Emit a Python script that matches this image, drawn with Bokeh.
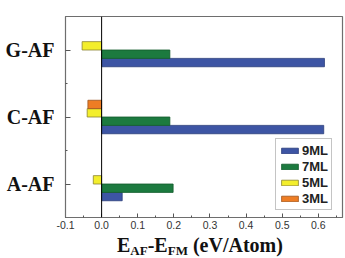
from bokeh.plotting import figure
from bokeh.layouts import column
from bokeh.models import (Range1d, FixedTicker, Span, Legend, LegendItem, Div,
                          NumeralTickFormatter, ColumnDataSource)
from bokeh.embed import file_html
from bokeh.resources import INLINE

# ---- data ----
phases = ["A-AF", "C-AF", "G-AF"]          # bottom to top
series = ["9ML", "7ML", "5ML", "3ML"]      # legend order
ml9 = [0.057, 0.615, 0.617]
ml7 = [0.198, 0.189, 0.189]
ml5 = [-0.023, -0.040, -0.054]
ml3 = [None, -0.038, None]
x_ticks = [-0.1, 0.0, 0.1, 0.2, 0.3, 0.4, 0.5, 0.6]

values = {"9ML": ml9, "7ML": ml7, "5ML": ml5, "3ML": ml3}
offsets = {"3ML": 0.1875, "5ML": 0.0625, "7ML": -0.0625, "9ML": -0.1875}
fills = {"9ML": "#3D55A4", "7ML": "#1C7A3F", "5ML": "#F3EE2C", "3ML": "#EE7D24"}
lines = {"9ML": "#2A3C7A", "7ML": "#125A2C", "5ML": "#8C8431", "3ML": "#9A5420"}

p = figure(width=345, height=234, output_backend="svg", toolbar_location=None,
           x_range=Range1d(-0.1, 0.667), y_range=Range1d(0, 3),
           min_border_left=65, min_border_right=3, min_border_top=16,
           min_border_bottom=17, margin=(0, 0, 0, 0))
p.grid.visible = False
p.outline_line_color = "#6E6E6E"
p.outline_line_width = 1.2

renderers = {}
for s in series:
    ys, rs = [], []
    for i, v in enumerate(values[s]):
        if v is None:
            continue
        ys.append(i + 0.5 + offsets[s])
        rs.append(v)
    src = ColumnDataSource(dict(y=ys, right=rs))
    renderers[s] = p.hbar(y="y", left=0, right="right", height=0.125, source=src,
                          fill_color=fills[s], line_color=lines[s], line_width=0.8)

p.add_layout(Span(location=0, dimension="height", line_color="black", line_width=1))

# x axis
xa = p.xaxis[0]
xa.ticker = FixedTicker(ticks=x_ticks,
                        minor_ticks=[t + 0.05 for t in x_ticks[:-1]] + [-0.1, 0.65])
xa.formatter = NumeralTickFormatter(format="0.0")
xa.axis_line_color = "#6E6E6E"
xa.major_tick_in = 4
xa.major_tick_out = 0
xa.minor_tick_in = 2
xa.minor_tick_out = 0
xa.major_tick_line_color = "#555555"
xa.minor_tick_line_color = "#555555"
xa.major_label_text_font = "Liberation Sans"
xa.major_label_text_font_size = "10.5px"
xa.major_label_text_color = "#333333"
xa.major_label_standoff = 3

# y axis
ya = p.yaxis[0]
ya.ticker = FixedTicker(ticks=[0.5, 1.5, 2.5], minor_ticks=[1.0, 2.0])
ya.major_label_overrides = {0.5: phases[0], 1.5: phases[1], 2.5: phases[2]}
ya.axis_line_color = "#6E6E6E"
ya.major_tick_in = 5
ya.major_tick_out = 0
ya.minor_tick_in = 2
ya.minor_tick_out = 0
ya.major_tick_line_color = "#555555"
ya.minor_tick_line_color = "#555555"
ya.major_label_text_font = "Liberation Serif"
ya.major_label_text_font_style = "bold"
ya.major_label_text_font_size = "20px"
ya.major_label_text_color = "#111111"
ya.major_label_standoff = 11

legend = Legend(items=[LegendItem(label=s, renderers=[renderers[s]]) for s in series],
                location=(210, 7))
legend.label_text_font = "Liberation Sans"
legend.label_text_font_style = "bold"
legend.label_text_font_size = "13px"
legend.label_text_color = "#222222"
legend.label_height = 16
legend.label_standoff = 2
legend.glyph_width = 21
legend.glyph_height = 7
legend.spacing = 0
legend.padding = 3
legend.margin = 0
legend.border_line_color = "#8A8A8A"
legend.border_line_width = 1
p.add_layout(legend, "center")

# x-axis title with subscripts
sub = "font-size:13px;vertical-align:-3px;line-height:0;"
title_html = ('<div style="font-family:\'Liberation Serif\';font-weight:bold;font-size:20px;'
              'line-height:20px;color:#111111;white-space:nowrap;padding-left:117px;'
              'padding-top:1px;">'
              f'E<span style="{sub}">AF</span>-E<span style="{sub}">FM</span> (eV/Atom)</div>')
title = Div(text=title_html, width=345, height=24, margin=(0, 0, 0, 0))

layout = column(p, title, spacing=0, margin=(0, 0, 0, 0))
open("out.html", "w").write(file_html(layout, INLINE))
